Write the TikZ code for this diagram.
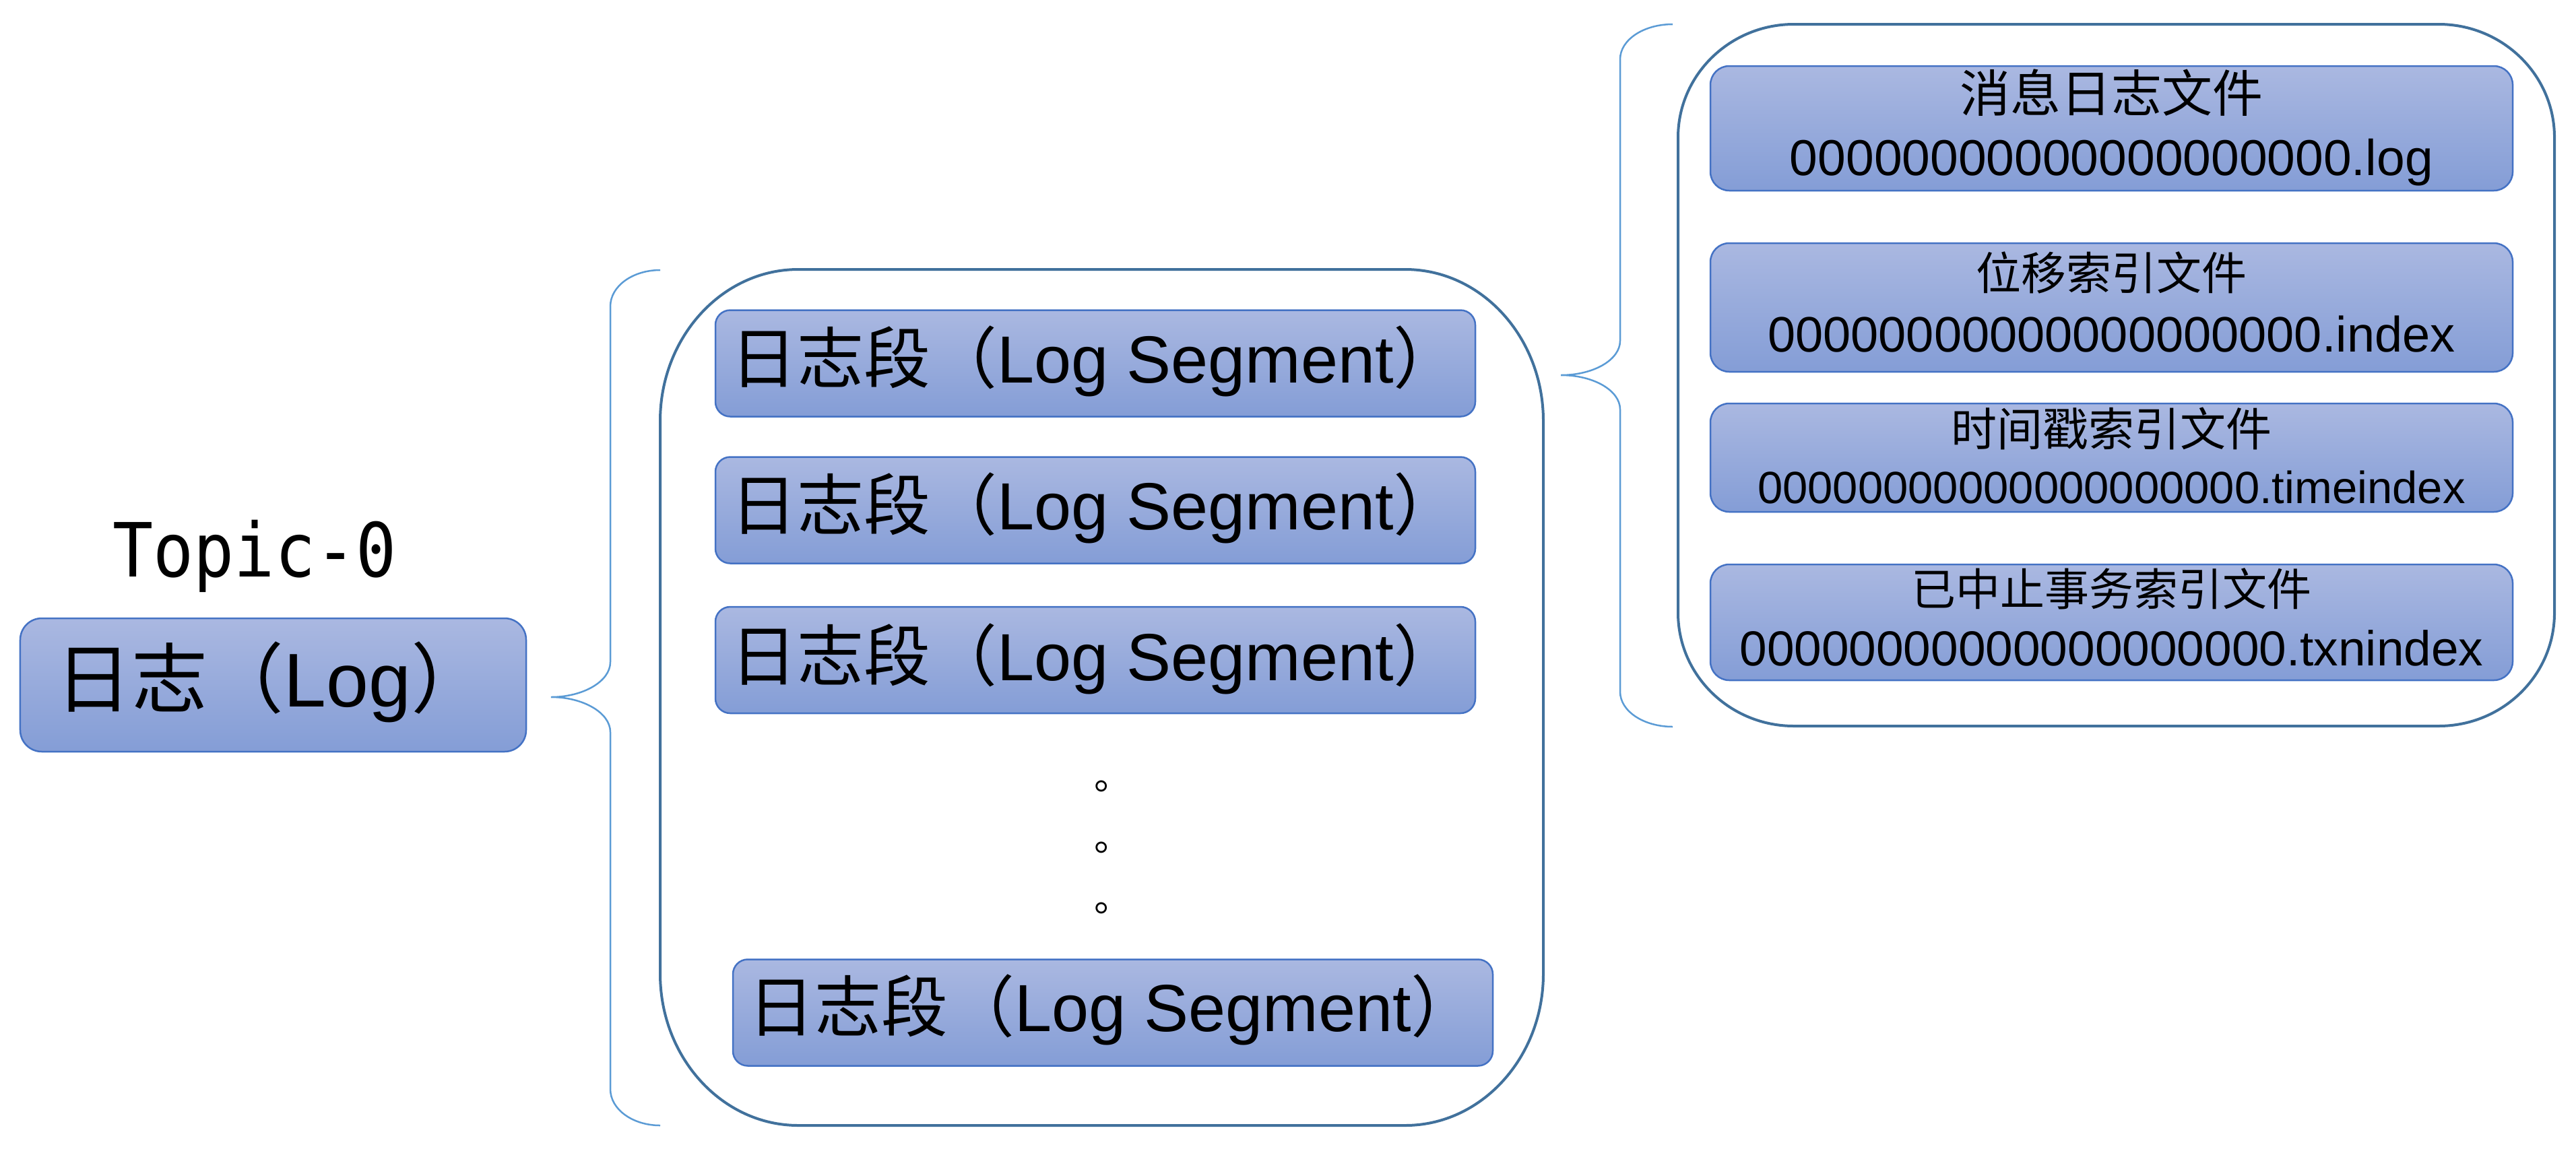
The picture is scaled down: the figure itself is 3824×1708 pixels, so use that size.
\documentclass[tikz,border=0pt]{standalone}
\usepackage{fontspec}
\setmainfont{Liberation Sans}
\newfontfamily\cjk{Noto Sans CJK SC}
\newfontfamily\topicfont[FakeStretch=0.9]{DejaVu Sans Mono}
\definecolor{boxtop}{HTML}{AAB8E1}
\definecolor{boxbot}{HTML}{849DD6}
\definecolor{boxline}{HTML}{4472C4}
\definecolor{contline}{HTML}{41719C}
\definecolor{braceline}{HTML}{5B9BD5}
\newcommand\fsz[1]{\fontsize{#1pt}{#1pt}\selectfont}
% name L T R B rx ry
\newcommand\ellframe[7]{%
  \path (#2,#3) coordinate (#1-nw) (#4,#5) coordinate (#1-se);
  \draw[contframe] (#2+#6,#3) -- (#4-#6,#3)
    .. controls (#4-0.448*#6,#3) and (#4,#3+0.448*#7) .. (#4,#3+#7)
    -- (#4,#5-#7)
    .. controls (#4,#5-0.448*#7) and (#4-0.448*#6,#5) .. (#4-#6,#5)
    -- (#2+#6,#5)
    .. controls (#2+0.448*#6,#5) and (#2,#5-0.448*#7) .. (#2,#5-#7)
    -- (#2,#3+#7)
    .. controls (#2,#3+0.448*#7) and (#2+0.448*#6,#3) .. cycle;}
\begin{document}
\begin{tikzpicture}[x=0.2pt,y=-0.2pt,
  fbox/.style={draw=boxline, line width=0.5pt, top color=boxtop, bottom color=boxbot, inner sep=0pt},
  logbox/.style={fbox, rounded corners=6.4pt, minimum width=150.2pt, minimum height=39.6pt},
  segbox/.style={fbox, rounded corners=4.4pt, minimum width=225.6pt, minimum height=31.6pt},
  filebox/.style={fbox, rounded corners=5.6pt, minimum width=238.2pt},
  contframe/.style={draw=contline, line width=0.8pt},
  bracel/.style={draw=braceline, line width=0.5pt},
  txt/.style={inner sep=0pt, anchor=base, text=black},
  segtxt/.style={txt, font=\fsz{19.8}},
  dotmark/.style={inner sep=0pt, anchor=base west, font=\cjk\fsz{11}}]
\useasboundingbox (0,0) rectangle (3824,1708);

% Topic title and log box
\node[txt, font=\topicfont\fsz{22.2}] (topic) at (378,856) {Topic-0};
\node[logbox] (log) at (405.5,1017) {};
\node[txt, font=\fsz{22.6}] (logt) at (403,1049) {{\cjk 日志（}Log{\cjk ）}};

% brace 1
\coordinate (b1a) at (980,401);
\coordinate (b1tip) at (818,1035);
\coordinate (b1z) at (980,1671);
\draw[bracel] (b1a) .. controls (939,401) and (906,425) .. (906,455) -- (906,983)
  .. controls (906,1012) and (865,1035) .. (b1tip)
  .. controls (865,1035) and (906,1058) .. (906,1087) -- (906,1617)
  .. controls (906,1647) and (939,1671) .. (b1z);

% segments container
\ellframe{segframe}{980}{400}{2291}{1671}{205}{225}
\node[segbox] (s1) at (1626,539.5) {};
\node[segtxt] (s1t) at (1626,568) {{\cjk 日志段（}Log Segment{\cjk ）}};
\node[segbox] (s2) at (1626,757.5) {};
\node[segtxt] (s2t) at (1626,786) {{\cjk 日志段（}Log Segment{\cjk ）}};
\node[segbox] (s3) at (1626,980) {};
\node[segtxt] (s3t) at (1626,1010) {{\cjk 日志段（}Log Segment{\cjk ）}};
\node[dotmark] (d1) at (1623,1172) {。};
\node[dotmark] (d2) at (1623,1263) {。};
\node[dotmark] (d3) at (1623,1353) {。};
\node[segbox] (s4) at (1652,1503.5) {};
\node[segtxt] (s4t) at (1652,1531) {{\cjk 日志段（}Log Segment{\cjk ）}};

% brace 2
\coordinate (b2a) at (2483,36);
\coordinate (b2tip) at (2317,557);
\coordinate (b2z) at (2483,1079);
\draw[bracel] (b2a) .. controls (2440,36) and (2405,59) .. (2405,88) -- (2405,506)
  .. controls (2405,534) and (2366,557) .. (b2tip)
  .. controls (2366,557) and (2405,580) .. (2405,608) -- (2405,1027)
  .. controls (2405,1056) and (2440,1079) .. (b2z);

% files container
\ellframe{fileframe}{2491}{36}{3792}{1078}{172}{168}
\node[filebox, minimum height=37pt] (fa) at (3134.5,190.5) {};
\node[txt, font=\cjk\fsz{15}] (fa1) at (3134.5,166) {消息日志文件};
\node[txt, font=\fsz{15}] (fa2) at (3134.5,260) {00000000000000000000.log};
\node[filebox, minimum height=38.2pt] (fb) at (3134.5,456.5) {};
\node[txt, font=\cjk\fsz{13.4}] (fb1) at (3134.5,430) {位移索引文件};
\node[txt, font=\fsz{14.8}] (fb2) at (3134.5,522) {00000000000000000000.index};
\node[filebox, minimum height=32.2pt] (fc) at (3134.5,679.5) {};
\node[txt, font=\cjk\fsz{13.6}] (fc1) at (3134.5,662) {时间戳索引文件};
\node[txt, font=\fsz{13.4}] (fc2) at (3134.5,747) {00000000000000000000.timeindex};
\node[filebox, minimum height=34.4pt] (fd) at (3134.5,924) {};
\node[txt, font=\cjk\fsz{13.2}] (fd1) at (3134.5,899) {已中止事务索引文件};
\node[txt, font=\fsz{14.6}] (fd2) at (3134.5,988) {00000000000000000000.txnindex};
\end{tikzpicture}
\end{document}
